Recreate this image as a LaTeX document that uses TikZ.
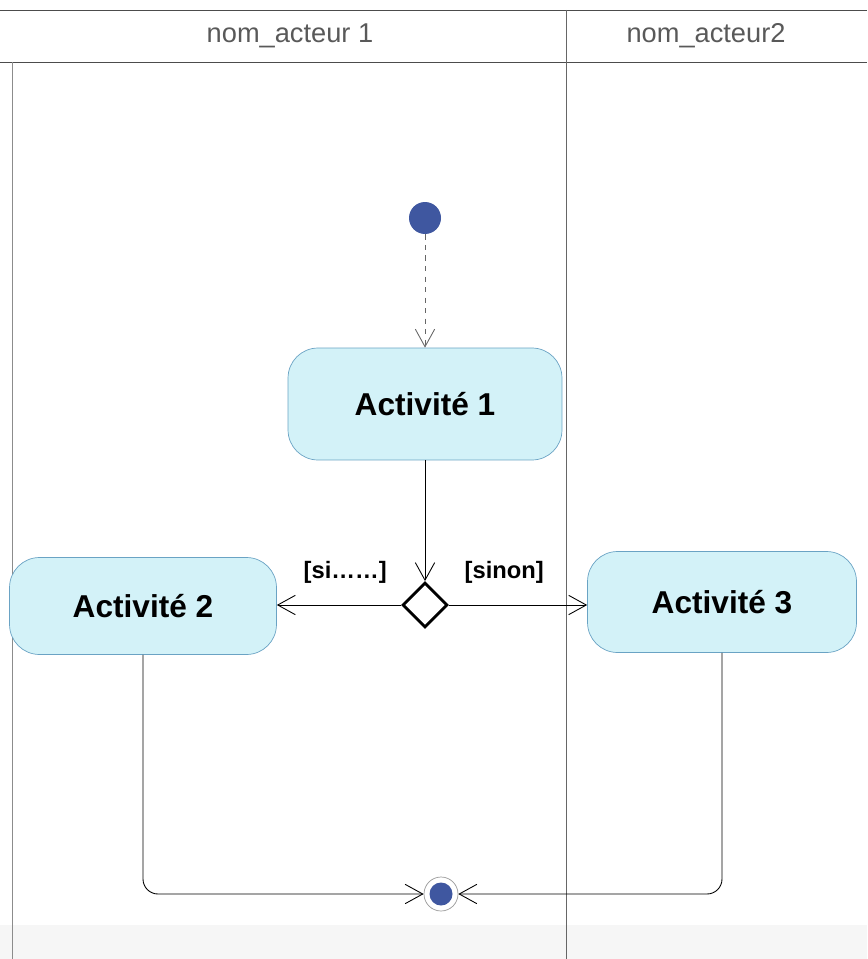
\documentclass[tikz,border=0pt]{standalone}
\usepackage{fontspec}
\setmainfont{Liberation Sans}
\usetikzlibrary{arrows.meta,positioning,shapes.geometric}
\definecolor{actfill}{HTML}{D3F2F8}
\definecolor{actdraw}{HTML}{6AA3C4}
\definecolor{dotblue}{HTML}{3F57A0}
\definecolor{laneline}{HTML}{8C8C8C}
\definecolor{stripgray}{HTML}{F6F6F6}

\begin{document}
\begin{tikzpicture}[
  x=0.02cm, y=-0.02cm,
  act/.style={draw=actdraw, fill=actfill, rounded corners=0.6cm, align=center,
    font=\bfseries\fontsize{18}{21}\selectfont, minimum width=5.4cm, minimum height=2cm},
  lanehead/.style={font=\fontsize{15.5}{18}\selectfont, text=black!65},
  arr/.style={-{Straight Barb[length=10pt,width=11pt]}, line width=0.5pt},
  guard/.style={font=\bfseries\fontsize{13.5}{16}\selectfont}
]
  \useasboundingbox (0,0) rectangle (867,959);
  % swimlanes
  \fill[stripgray] (0,925) rectangle (867,959);
  \draw[black!70] (0,10) -- (867,10);
  \draw[black!70] (0,62) -- (867,62);
  \draw[laneline] (12,62) -- (12,959);
  \draw[black!60] (566,10) -- (566,959);
  \node[lanehead] (lane1) at (290,36) {nom\_acteur 1};
  \node[lanehead] (lane2) at (706,36) {nom\_acteur2};

  % activity nodes
  \node[circle, fill=dotblue, minimum size=0.64cm, inner sep=0] (start) at (425,218) {};
  \node[act, minimum width=5.48cm, minimum height=2.24cm] (a1) at (425,404) {Activité 1};
  \node[diamond, draw, line width=1.6pt, fill=white, minimum width=0.9cm, minimum height=0.9cm, inner sep=0] (dec) at (425,605) {};
  \node[act, minimum width=5.34cm, minimum height=1.94cm] (a2) at (143,606) {Activité 2};
  \node[act, minimum width=5.38cm, minimum height=2.02cm] (a3) at (722,602) {Activité 3};
  \node[circle, draw=black!40, fill=white, minimum size=0.68cm, inner sep=0] (fin) at (441,894) {};
  \node[circle, fill=dotblue, minimum size=0.46cm, inner sep=0] at (fin) {};

  % transitions
  \draw[arr, dashed, black!60] (start) -- (a1);
  \draw[arr] (a1) -- (dec);
  \draw[arr] (dec.west) -- node[guard, above=0.3cm, pos=0.45] {[si\ldots\ldots]} (a2.east |- dec.west);
  \draw[arr] (dec.east) -- node[guard, above=0.3cm, pos=0.4] {[sinon]} (a3.west |- dec.east);
  \draw[arr, rounded corners=0.3cm] (a2.south) |- (fin.west);
  \draw[arr, rounded corners=0.3cm] (a3.south) |- (fin.east);
\end{tikzpicture}
\end{document}
